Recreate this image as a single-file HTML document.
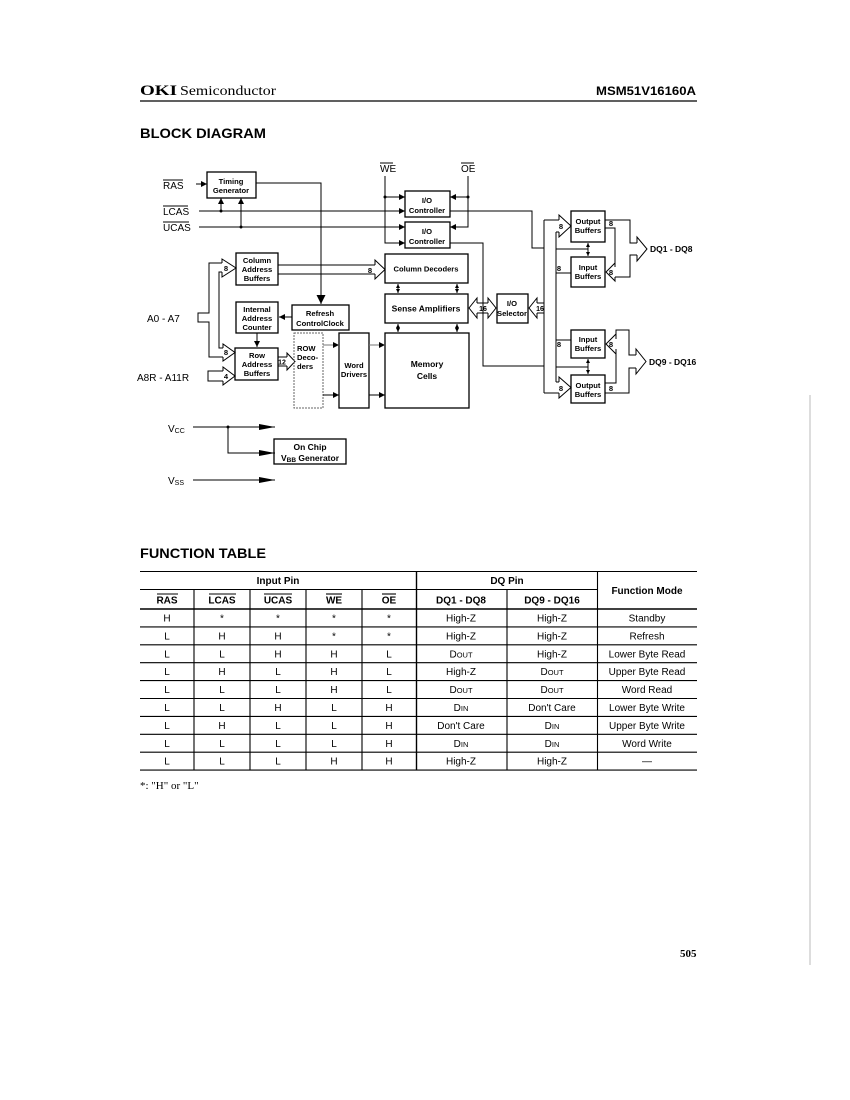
<!DOCTYPE html>
<html><head><meta charset="utf-8"><style>
html,body{margin:0;padding:0;background:#fff;}
svg{display:block;}
.bx{font-family:"Liberation Sans Narrow","Liberation Sans",sans-serif;font-weight:bold;font-size:7.6px;fill:#000;}
.lb{font-family:"Liberation Sans",sans-serif;font-size:10px;fill:#000;}
.tb{font-family:"Liberation Sans Narrow","Liberation Sans",sans-serif;font-size:10px;fill:#000;}
.th{font-family:"Liberation Sans",sans-serif;font-weight:bold;font-size:10px;fill:#000;}
</style></head><body>
<svg width="850" height="1100" viewBox="0 0 850 1100" xmlns="http://www.w3.org/2000/svg">
<defs>
<marker id="a" viewBox="0 0 10 10" refX="10" refY="5" markerWidth="6" markerHeight="6" orient="auto-start-reverse" markerUnits="userSpaceOnUse"><path d="M0,0 L10,5 L0,10z" fill="#000"/></marker>
<marker id="s" viewBox="0 0 10 10" refX="10" refY="5" markerWidth="4" markerHeight="4" orient="auto-start-reverse" markerUnits="userSpaceOnUse"><path d="M0,0 L10,5 L0,10z" fill="#000"/></marker>
<marker id="b" viewBox="0 0 10 10" refX="10" refY="5" markerWidth="10" markerHeight="9" orient="auto" markerUnits="userSpaceOnUse"><path d="M0,0 L10,5 L0,10z" fill="#000"/></marker>
<marker id="c" viewBox="0 0 16 6" refX="16" refY="3" markerWidth="16" markerHeight="6" orient="auto" markerUnits="userSpaceOnUse"><path d="M0,0 L16,3 L0,6z" fill="#000"/></marker>
</defs>
<rect width="850" height="1100" fill="#fff"/>

<!-- Header -->
<text x="140" y="95" font-family="Liberation Serif,serif" font-weight="bold" font-size="15" textLength="37" lengthAdjust="spacingAndGlyphs">OKI</text>
<text x="180" y="95" font-family="Liberation Serif,serif" font-size="14" textLength="96" lengthAdjust="spacingAndGlyphs">Semiconductor</text>
<text x="596" y="95" font-family="Liberation Sans,sans-serif" font-weight="bold" font-size="12" textLength="100" lengthAdjust="spacingAndGlyphs">MSM51V16160A</text>
<line x1="140" y1="101" x2="697" y2="101" stroke="#000" stroke-width="1.3"/>
<text x="140" y="138" font-family="Liberation Sans,sans-serif" font-weight="bold" font-size="13.5" textLength="126" lengthAdjust="spacingAndGlyphs">BLOCK DIAGRAM</text>

<g stroke="#000" fill="none" stroke-width="1">
<!-- Timing generator -->
<rect x="207" y="172" width="49" height="26" stroke-width="1.3"/>
<line x1="196" y1="184" x2="207" y2="184" marker-end="url(#a)"/>
<polyline points="256,183 321,183 321,304" marker-end="url(#b)"/>
<!-- LCAS / UCAS -->
<line x1="199" y1="211" x2="405" y2="211" marker-end="url(#a)"/>
<line x1="199" y1="227" x2="405" y2="227" marker-end="url(#a)"/>
<line x1="221" y1="211" x2="221" y2="198" marker-end="url(#a)"/>
<line x1="241" y1="227" x2="241" y2="198" marker-end="url(#a)"/>
<!-- WE / OE -->
<polyline points="385,176 385,243 405,243" marker-end="url(#a)"/>
<line x1="385" y1="197" x2="405" y2="197" marker-end="url(#a)"/>
<polyline points="468,176 468,227 450,227" marker-end="url(#a)"/>
<line x1="468" y1="197" x2="450" y2="197" marker-end="url(#a)"/>
<!-- IO controllers -->
<rect x="405" y="191" width="45" height="26" stroke-width="1.3"/>
<rect x="405" y="222" width="45" height="26" stroke-width="1.3"/>
<polyline points="450,211 532,211 532,248 544,248"/>
<polyline points="450,243 483,243 483,366 544,366"/>
<!-- Column address buffers -->
<rect x="236" y="253" width="42" height="32" stroke-width="1.3"/>
<line x1="278" y1="265" x2="375" y2="265"/>
<line x1="278" y1="274" x2="375" y2="274"/>
<polyline points="375,265 375,260 385,269.5 375,279 375,274"/>
<!-- Column decoders, sense amps, memory -->
<rect x="385" y="254" width="83" height="29" stroke-width="1.3"/>
<rect x="385" y="294" width="83" height="29" stroke-width="1.3"/>
<rect x="385" y="333" width="84" height="75" stroke-width="1.3"/>
<line x1="398" y1="284" x2="398" y2="293" marker-start="url(#s)" marker-end="url(#s)"/>
<line x1="457" y1="284" x2="457" y2="293" marker-start="url(#s)" marker-end="url(#s)"/>
<line x1="398" y1="324" x2="398" y2="332" marker-start="url(#s)" marker-end="url(#s)"/>
<line x1="457" y1="324" x2="457" y2="332" marker-start="url(#s)" marker-end="url(#s)"/>
<!-- sense <-> IO selector -->
<polyline points="477,303 477,298 469,308 477,318 477,313"/>
<polyline points="488,303 488,298 496,308 488,318 488,313"/>
<line x1="477" y1="303" x2="488" y2="303"/>
<line x1="477" y1="313" x2="488" y2="313"/>
<rect x="497" y="294" width="31" height="29" stroke-width="1.3"/>
<polyline points="537,303 537,298 529,308 537,318 537,313"/>
<line x1="537" y1="303" x2="544" y2="303"/>
<line x1="537" y1="313" x2="544" y2="313"/>
<!-- vertical bus -->
<line x1="544" y1="220" x2="544" y2="393"/>
<line x1="556" y1="232" x2="556" y2="382"/>
<!-- upper output buffers -->
<line x1="544" y1="220" x2="559" y2="220"/>
<line x1="556" y1="232" x2="559" y2="232"/>
<polyline points="559,220 559,215 571,226 559,237 559,232"/>
<rect x="571" y="211" width="34" height="31" stroke-width="1.3"/>
<rect x="571" y="257" width="34" height="30" stroke-width="1.3"/>
<line x1="588" y1="243" x2="588" y2="256" marker-start="url(#s)" marker-end="url(#s)"/>
<line x1="556" y1="249" x2="588" y2="249"/>
<line x1="571" y1="273" x2="556" y2="273"/>
<polyline points="605,220 630,220 630,243 637,243"/>
<polyline points="605,228 615,228 615,267"/>
<polyline points="615,267 615,263 606,272 615,281 615,277"/>
<polyline points="615,277 630,277 630,255 637,255"/>
<polyline points="637,243 637,237 647,249 637,261 637,255"/>
<!-- lower -->
<rect x="571" y="330" width="34" height="28" stroke-width="1.3"/>
<rect x="571" y="375" width="34" height="28" stroke-width="1.3"/>
<line x1="588" y1="359" x2="588" y2="374" marker-start="url(#s)" marker-end="url(#s)"/>
<line x1="556" y1="367" x2="588" y2="367"/>
<line x1="571" y1="340" x2="556" y2="340"/>
<line x1="544" y1="393" x2="559" y2="393"/>
<line x1="556" y1="382" x2="559" y2="382"/>
<polyline points="559,382 559,377 571,387.5 559,398 559,393"/>
<polyline points="616,339 616,330 629,330 629,355 636,355"/>
<polyline points="616,339 616,334 606,344 616,354 616,349"/>
<polyline points="616,349 616,383 605,383"/>
<polyline points="605,393 629,393 629,368 636,368"/>
<polyline points="636,355 636,349 646,361.5 636,374 636,368"/>
<!-- address inputs -->
<polyline points="222,263 209,263 209,313 198,313 198,322 209,322 209,357 223,357"/>
<polyline points="222,272 219,272 219,348 223,348"/>
<polyline points="222,263 222,259 236,268 222,277 222,272"/>
<polyline points="223,348 223,344 235,352.5 223,361 223,357"/>
<polyline points="223,371 208,371 208,381 223,381"/>
<polyline points="223,371 223,367 235,376 223,385 223,381"/>
<!-- row side -->
<rect x="235" y="348" width="43" height="32" stroke-width="1.3"/>
<rect x="236" y="302" width="42" height="31" stroke-width="1.3"/>
<rect x="292" y="305" width="57" height="25" stroke-width="1.3"/>
<line x1="292" y1="317" x2="279" y2="317" marker-end="url(#a)"/>
<line x1="257" y1="333" x2="257" y2="347" marker-end="url(#a)"/>
<line x1="278" y1="357" x2="287" y2="357"/>
<line x1="278" y1="366" x2="287" y2="366"/>
<polyline points="287,357 287,353 295,361.5 287,370 287,366"/>
<rect x="294" y="333" width="29" height="75" stroke="#666" stroke-dasharray="2,1"/>
<rect x="339" y="333" width="30" height="75" stroke-width="1.3"/>
<line x1="323" y1="345" x2="339" y2="345" stroke="#777" marker-end="url(#a)"/>
<line x1="323" y1="395" x2="339" y2="395" marker-end="url(#a)"/>
<line x1="369" y1="345" x2="385" y2="345" stroke="#777" marker-end="url(#a)"/>
<line x1="369" y1="395" x2="385" y2="395" marker-end="url(#a)"/>
<!-- Vcc / Vss -->
<line x1="193" y1="427" x2="275" y2="427" marker-end="url(#c)"/>
<polyline points="228,427 228,453 275,453" marker-end="url(#c)"/>
<line x1="193" y1="480" x2="275" y2="480" marker-end="url(#c)"/>
<rect x="274" y="439" width="72" height="25" stroke-width="1.3"/>
<!-- overbars -->
<line x1="163" y1="180" x2="183" y2="180"/>
<line x1="163" y1="206" x2="188" y2="206"/>
<line x1="163" y1="222" x2="189" y2="222"/>
<line x1="380" y1="163" x2="393" y2="163"/>
<line x1="461" y1="163" x2="474" y2="163"/>
</g>
<g fill="#000">
<circle cx="221" cy="211" r="1.5"/><circle cx="241" cy="227" r="1.5"/>
<circle cx="385" cy="197" r="1.5"/><circle cx="468" cy="197" r="1.5"/>
<circle cx="228" cy="427" r="1.5"/>
</g>

<!-- diagram labels -->
<text class="lb" x="163" y="189">RAS</text>
<text class="lb" x="163" y="215">LCAS</text>
<text class="lb" x="163" y="231">UCAS</text>
<text class="lb" x="380" y="172">WE</text>
<text class="lb" x="461" y="172">OE</text>
<text class="lb" x="147" y="322">A0 - A7</text>
<text class="lb" x="137" y="381">A8R - A11R</text>
<text class="lb" x="168" y="432">V<tspan font-size="7" dy="1">CC</tspan></text>
<text class="lb" x="168" y="484">V<tspan font-size="7" dy="1">SS</tspan></text>

<g class="bx" text-anchor="middle">
<text x="231" y="184">Timing</text><text x="231" y="193">Generator</text>
<text x="427" y="203">I/O</text><text x="427" y="213">Controller</text>
<text x="427" y="234">I/O</text><text x="427" y="244">Controller</text>
<text x="257" y="263">Column</text><text x="257" y="272">Address</text><text x="257" y="281">Buffers</text>
<text x="426" y="271.5">Column Decoders</text>
<text x="426" y="311.5" font-size="8.5">Sense Amplifiers</text>
<text x="427" y="367" font-size="8.5">Memory</text><text x="427" y="379" font-size="8.5">Cells</text>
<text x="512" y="306">I/O</text><text x="512" y="316">Selector</text>
<text x="588" y="224">Output</text><text x="588" y="233">Buffers</text>
<text x="588" y="270">Input</text><text x="588" y="279">Buffers</text>
<text x="588" y="342">Input</text><text x="588" y="351">Buffers</text>
<text x="588" y="388">Output</text><text x="588" y="397">Buffers</text>
<text x="257" y="312">Internal</text><text x="257" y="321">Address</text><text x="257" y="330">Counter</text>
<text x="320" y="316">Refresh</text><text x="320" y="326">ControlClock</text>
<text x="257" y="358">Row</text><text x="257" y="367">Address</text><text x="257" y="376">Buffers</text>
<text x="354" y="368">Word</text><text x="354" y="377">Drivers</text>
<text x="310" y="450" font-size="8.5">On Chip</text>
<text x="310" y="461" font-size="8.5">V<tspan font-size="6.5" dy="1">BB</tspan><tspan dy="-1"> Generator</tspan></text>
<text x="370" y="273">8</text>
<text x="226" y="271">8</text>
<text x="226" y="355">8</text>
<text x="226" y="379">4</text>
<text x="282" y="364.5" font-size="7">12</text>
<text x="483" y="311" font-size="7">16</text>
<text x="540" y="311" font-size="7">16</text>
<text x="561" y="229">8</text>
<text x="559" y="271">8</text>
<text x="559" y="347">8</text>
<text x="561" y="391">8</text>
<text x="611" y="226">8</text>
<text x="611" y="275">8</text>
<text x="611" y="347">8</text>
<text x="611" y="391">8</text>
</g>
<g class="bx">
<text x="297" y="351">ROW</text><text x="297" y="360">Deco-</text><text x="297" y="369">ders</text>
</g>
<text x="650" y="252" font-family="Liberation Sans Narrow,Liberation Sans,sans-serif" font-size="8.5" font-weight="bold">DQ1 - DQ8</text>
<text x="649" y="365" font-family="Liberation Sans Narrow,Liberation Sans,sans-serif" font-size="8.5" font-weight="bold">DQ9 - DQ16</text>

<!-- FUNCTION TABLE -->
<text x="140" y="558" font-family="Liberation Sans,sans-serif" font-weight="bold" font-size="13.5" textLength="126" lengthAdjust="spacingAndGlyphs">FUNCTION TABLE</text>
<g stroke="#000" stroke-width="1.1">
<line x1="140" y1="571.5" x2="697" y2="571.5"/>
<line x1="140" y1="589.5" x2="597" y2="589.5"/>
<line x1="140" y1="609" x2="697" y2="609" stroke-width="1.4"/>
<line x1="140" y1="626.9" x2="697" y2="626.9"/>
<line x1="140" y1="644.8" x2="697" y2="644.8"/>
<line x1="140" y1="662.7" x2="697" y2="662.7"/>
<line x1="140" y1="680.6" x2="697" y2="680.6"/>
<line x1="140" y1="698.5" x2="697" y2="698.5"/>
<line x1="140" y1="716.4" x2="697" y2="716.4"/>
<line x1="140" y1="734.3" x2="697" y2="734.3"/>
<line x1="140" y1="752.2" x2="697" y2="752.2"/>
<line x1="140" y1="770.1" x2="697" y2="770.1"/>
<line x1="194" y1="589.5" x2="194" y2="770.1"/>
<line x1="250" y1="589.5" x2="250" y2="770.1"/>
<line x1="306" y1="589.5" x2="306" y2="770.1"/>
<line x1="362" y1="589.5" x2="362" y2="770.1"/>
<line x1="416.5" y1="571.5" x2="416.5" y2="770.1" stroke-width="1.4"/>
<line x1="507" y1="589.5" x2="507" y2="770.1"/>
<line x1="597.5" y1="571.5" x2="597.5" y2="770.1"/>
<!-- header overbars -->
<line x1="157" y1="594" x2="178" y2="594"/>
<line x1="209" y1="594" x2="236" y2="594"/>
<line x1="264" y1="594" x2="292" y2="594"/>
<line x1="326" y1="594" x2="342" y2="594"/>
<line x1="382" y1="594" x2="396" y2="594"/>
</g>
<g class="th" text-anchor="middle">
<text x="278" y="584">Input Pin</text>
<text x="507" y="584">DQ Pin</text>
<text x="647" y="594">Function Mode</text>
<text x="167" y="603.5">RAS</text>
<text x="222" y="603.5">LCAS</text>
<text x="278" y="603.5">UCAS</text>
<text x="334" y="603.5">WE</text>
<text x="389" y="603.5">OE</text>
<text x="461" y="603.5">DQ1 - DQ8</text>
<text x="552" y="603.5">DQ9 - DQ16</text>
</g>
<g class="tb" text-anchor="middle">
<text x="167" y="621.5">H</text><text x="222" y="621.5">*</text><text x="278" y="621.5">*</text><text x="334" y="621.5">*</text><text x="389" y="621.5">*</text>
<text x="461" y="621.5">High-Z</text><text x="552" y="621.5">High-Z</text><text x="647" y="621.5">Standby</text>

<text x="167" y="639.4">L</text><text x="222" y="639.4">H</text><text x="278" y="639.4">H</text><text x="334" y="639.4">*</text><text x="389" y="639.4">*</text>
<text x="461" y="639.4">High-Z</text><text x="552" y="639.4">High-Z</text><text x="647" y="639.4">Refresh</text>

<text x="167" y="657.3">L</text><text x="222" y="657.3">L</text><text x="278" y="657.3">H</text><text x="334" y="657.3">H</text><text x="389" y="657.3">L</text>
<text x="461" y="657.3">D<tspan font-size="7.5">OUT</tspan></text><text x="552" y="657.3">High-Z</text><text x="647" y="657.3">Lower Byte Read</text>

<text x="167" y="675.2">L</text><text x="222" y="675.2">H</text><text x="278" y="675.2">L</text><text x="334" y="675.2">H</text><text x="389" y="675.2">L</text>
<text x="461" y="675.2">High-Z</text><text x="552" y="675.2">D<tspan font-size="7.5">OUT</tspan></text><text x="647" y="675.2">Upper Byte Read</text>

<text x="167" y="693.1">L</text><text x="222" y="693.1">L</text><text x="278" y="693.1">L</text><text x="334" y="693.1">H</text><text x="389" y="693.1">L</text>
<text x="461" y="693.1">D<tspan font-size="7.5">OUT</tspan></text><text x="552" y="693.1">D<tspan font-size="7.5">OUT</tspan></text><text x="647" y="693.1">Word Read</text>

<text x="167" y="711">L</text><text x="222" y="711">L</text><text x="278" y="711">H</text><text x="334" y="711">L</text><text x="389" y="711">H</text>
<text x="461" y="711">D<tspan font-size="7.5">IN</tspan></text><text x="552" y="711">Don't Care</text><text x="647" y="711">Lower Byte Write</text>

<text x="167" y="728.9">L</text><text x="222" y="728.9">H</text><text x="278" y="728.9">L</text><text x="334" y="728.9">L</text><text x="389" y="728.9">H</text>
<text x="461" y="728.9">Don't Care</text><text x="552" y="728.9">D<tspan font-size="7.5">IN</tspan></text><text x="647" y="728.9">Upper Byte Write</text>

<text x="167" y="746.8">L</text><text x="222" y="746.8">L</text><text x="278" y="746.8">L</text><text x="334" y="746.8">L</text><text x="389" y="746.8">H</text>
<text x="461" y="746.8">D<tspan font-size="7.5">IN</tspan></text><text x="552" y="746.8">D<tspan font-size="7.5">IN</tspan></text><text x="647" y="746.8">Word Write</text>

<text x="167" y="764.7">L</text><text x="222" y="764.7">L</text><text x="278" y="764.7">L</text><text x="334" y="764.7">H</text><text x="389" y="764.7">H</text>
<text x="461" y="764.7">High-Z</text><text x="552" y="764.7">High-Z</text><text x="647" y="764.7">—</text>
</g>
<text x="140" y="789" font-family="Liberation Serif,serif" font-size="11">*: "H" or "L"</text>

<text x="680" y="957" font-family="Liberation Serif,serif" font-weight="bold" font-size="11">505</text>
<line x1="810" y1="395" x2="810" y2="965" stroke="#bbb" stroke-width="1"/>
</svg>
</body></html>
